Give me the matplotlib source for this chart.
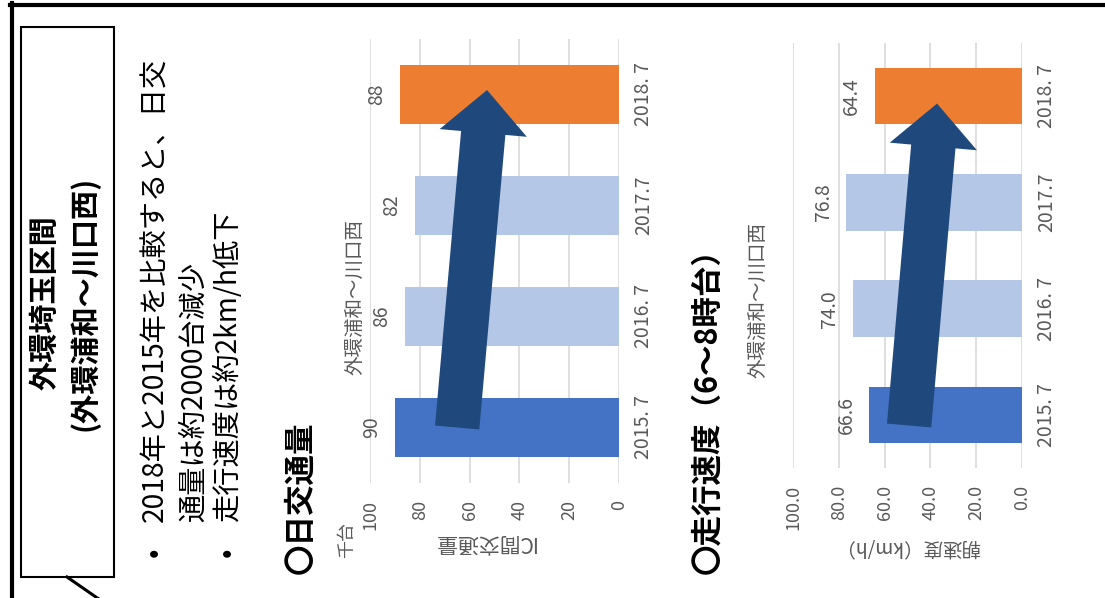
import matplotlib
matplotlib.use("Agg")
import matplotlib.pyplot as plt
from matplotlib.lines import Line2D
from matplotlib.patches import Rectangle
from matplotlib.ticker import FixedLocator, StrMethodFormatter

plt.rcParams["font.family"] = ["Noto Sans CJK JP", "DejaVu Sans"]

# ---- data -------------------------------------------------------------
periods = ["2015. 7", "2016. 7", "2017.7", "2018. 7"]
traffic = [90, 86, 82, 88]          # 千台 / 日
speed = [66.6, 74.0, 76.8, 64.4]    # km/h (6～8時台)
value_ticks = [0, 20, 40, 60, 80, 100]

section_title = "外環埼玉区間"
section_sub = "(外環浦和～川口西)"
bullets = [
    ["2018年と2015年を比較すると、日交", "通量は約2000台減少"],
    ["走行速度は約2km/h低下"],
]
heading_traffic = "〇日交通量"
heading_speed = "〇走行速度（6～8時台）"
chart_title = "外環浦和～川口西"
traffic_label = "IC間交通量"
traffic_unit = "千台"
speed_label = "朝速度（km/h）"

# ---- styling ----------------------------------------------------------
W, H = 1105, 598
bar_colors = ["#4472C4", "#B4C7E7", "#B4C7E7", "#ED7D31"]
grid_color = "#D9D9D9"
label_color = "#595959"
arrow_color = "#1F497D"

fig = plt.figure(figsize=(W / 100, H / 100), dpi=100)


def fx(px):
    return px / W


def fy(py):
    return 1 - py / H


# page frame (top and left edges)
fig.add_artist(Line2D([fx(10), fx(W)], [fy(4.5), fy(4.5)], color="black", lw=3.0))
fig.add_artist(Line2D([fx(11.5), fx(11.5)], [fy(3), fy(H)], color="black", lw=3.0))

# title box with callout tail
fig.add_artist(Rectangle((fx(21), fy(577)), fx(114) - fx(21), fy(27) - fy(577),
                         fill=False, ec="black", lw=1.5))
fig.add_artist(Line2D([fx(67), fx(106)], [fy(577), fy(604)], color="black", lw=2.2))
fig.text(fx(45), fy(303), section_title, rotation=90, ha="center", va="center",
         fontsize=21, fontweight="bold")
fig.text(fx(84), fy(303), section_sub, rotation=90, ha="center", va="center",
         fontsize=21, fontweight="bold")

# bullet text
line_x = [[155, 194], [228]]
for lines, xs in zip(bullets, line_x):
    fig.text(fx(xs[0]), fy(552), "•", rotation=90, ha="center", va="center", fontsize=20)
    for txt, x in zip(lines, xs):
        fig.text(fx(x), fy(522), txt, rotation=90, ha="center", va="bottom", fontsize=20.3)

# section headings
fig.text(fx(300), fy(574), heading_traffic, rotation=90, ha="center", va="bottom",
         fontsize=22, fontweight="bold")
fig.text(fx(707), fy(574), heading_speed, rotation=90, ha="center", va="bottom",
         fontsize=22, fontweight="bold")


def make_chart(rect, values, fmt, tick_fmt, tail, tip):
    ax = fig.add_axes(rect)
    pos = list(range(len(periods)))
    ax.barh(pos, values, height=0.53, color=bar_colors, zorder=2)
    ax.set_xlim(100, 0)
    ax.set_ylim(-0.5, len(periods) - 0.5)
    ax.xaxis.set_major_locator(FixedLocator(value_ticks))
    ax.xaxis.set_major_formatter(StrMethodFormatter(tick_fmt))
    ax.grid(axis="x", color=grid_color, lw=1.2, zorder=0)
    ax.set_axisbelow(True)
    for s in ax.spines.values():
        s.set_visible(False)
    ax.yaxis.tick_right()
    ax.set_yticks(pos)
    ax.set_yticklabels(periods)
    ax.tick_params(axis="x", length=0, pad=12, labelrotation=90,
                   labelsize=13, labelcolor=label_color)
    ax.tick_params(axis="y", length=0, pad=10, labelrotation=90,
                   labelsize=14, labelcolor=label_color)
    for t in ax.get_yticklabels():
        t.set_va("center")
        t.set_ha("left")
    for p, v in zip(pos, values):
        ax.annotate(fmt.format(v), xy=(v, p), xytext=(-9, 0), textcoords="offset points",
                    rotation=90, ha="right", va="center", fontsize=14, color=label_color)
    ax.annotate("", xy=tip, xytext=tail,
                arrowprops=dict(arrowstyle="simple,head_length=3.1,head_width=6.3,tail_width=3.2",
                                mutation_scale=10, fc=arrow_color, ec=arrow_color, lw=0,
                                shrinkA=0, shrinkB=0),
                zorder=5)
    return ax


ax1 = make_chart([fx(370), fy(483), fx(619) - fx(370), fy(39) - fy(483)],
                 traffic, "{:d}", "{x:.0f}", tail=(65, 0.0), tip=(53, 3.04))
ax2 = make_chart([fx(793), fy(468), fx(1022) - fx(793), fy(43) - fy(468)],
                 speed, "{:.1f}", "{x:.1f}", tail=(49.3, -0.1), tip=(37.1, 2.93))

# chart titles and axis captions
fig.text(fx(355), fy(297), chart_title, rotation=90, ha="center", va="center",
         fontsize=14, color=label_color)
fig.text(fx(758), fy(300), chart_title, rotation=90, ha="center", va="center",
         fontsize=14, color=label_color)
fig.text(fx(347), fy(540), traffic_unit, rotation=90, ha="center", va="center",
         fontsize=13, color=label_color)
fig.text(fx(483), fy(542), traffic_label, rotation=180, ha="center", va="center",
         fontsize=15, color=label_color)
fig.text(fx(907), fy(547), speed_label, rotation=180, ha="center", va="center",
         fontsize=14, color=label_color)

fig.savefig("out.png", dpi=100)
